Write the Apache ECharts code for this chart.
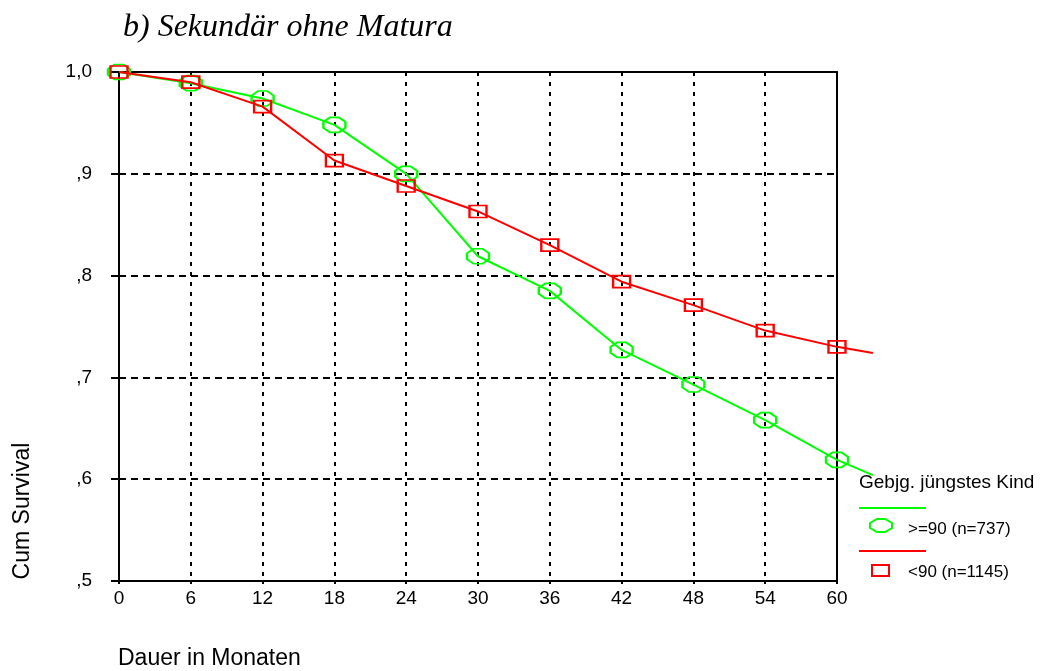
<!DOCTYPE html>
<html>
<head>
<meta charset="utf-8">
<script src="https://cdn.jsdelivr.net/npm/echarts@6/dist/echarts.min.js"></script>
<style>html,body{margin:0;padding:0;background:#fff;}#c{width:1049px;height:671px;}</style>
</head>
<body>
<div id="c"></div>
<script>
// Data
const months = [0, 6, 12, 18, 24, 30, 36, 42, 48, 54, 60];
const yTicks = [0.5, 0.6, 0.7, 0.8, 0.9, 1.0];
const yTickLabels = [',5', ',6', ',7', ',8', ',9', '1,0'];
const greenSurv = [1.0, 0.989, 0.974, 0.948, 0.900, 0.819, 0.785, 0.727, 0.693, 0.658, 0.619];
const greenEnd = [63, 0.604];
const redSurv = [1.0, 0.990, 0.966, 0.913, 0.888, 0.863, 0.830, 0.794, 0.771, 0.746, 0.730];
const redEnd = [63, 0.724];
const nameGreen = '>=90 (n=737)';
const nameRed = '<90 (n=1145)';
const legendTitle = 'Gebjg. jüngstes Kind';
const chartTitle = 'b) Sekundär ohne Matura';
const yName = 'Cum Survival';
const xName = 'Dauer in Monaten';

const GREEN = '#00ff00', RED = '#ff0000';
const SANS = '"Liberation Sans", Arial, sans-serif';
const octagon = 'path://M3,0 L7,0 L10,3 L10,7 L7,10 L3,10 L0,7 L0,3 Z';

// plot geometry
const GL = 119, GT = 72, GB = 90, GR = 212;
const plotW = 1049 - GL - GR;           // width for 0..60
const X_MAX = 60, X_EXT = 63;            // lines run on past the last tick
const GR2 = 1049 - GL - plotW * X_EXT / X_MAX;

function toData(vals, end) {
  const d = months.map((m, i) => [m, vals[i]]);
  d.push({ value: end, symbol: 'none' });
  return d;
}

const chart = echarts.init(document.getElementById('c'), null, { renderer: 'canvas' });
const axisLineStyle = { color: '#000', width: 2 };
const option = {
  backgroundColor: '#fff',
  animation: false,
  grid: [
    { left: GL, right: GR, top: GT, bottom: GB, containLabel: false },
    { left: GL, right: GR2, top: GT, bottom: GB, containLabel: false }
  ],
  xAxis: [{
    type: 'value', gridIndex: 0, min: 0, max: X_MAX, interval: 6,
    axisLine: { show: true, onZero: false, lineStyle: axisLineStyle },
    axisTick: { show: true, length: 3, lineStyle: axisLineStyle },
    axisLabel: { show: true, margin: 8, color: '#000', fontSize: 19, fontFamily: SANS },
    splitLine: { show: true, showMinLine: false, showMaxLine: false, lineStyle: { color: '#000', width: 2, type: [4, 6] } }
  }, {
    type: 'value', gridIndex: 0, min: 0, max: X_MAX, position: 'top',
    axisLine: { show: true, onZero: false, lineStyle: axisLineStyle },
    axisTick: { show: false }, axisLabel: { show: false }, splitLine: { show: false }
  }, {
    type: 'value', gridIndex: 1, min: 0, max: X_EXT, show: false
  }],
  yAxis: [{
    type: 'value', gridIndex: 0, min: 0.5, max: 1.0, interval: 0.1,
    axisLine: { show: true, onZero: false, lineStyle: axisLineStyle },
    axisTick: { show: true, length: 8, lineStyle: axisLineStyle },
    axisLabel: {
      show: true, margin: 27, color: '#000', fontSize: 19, fontFamily: SANS,
      formatter: function (v) {
        const i = yTicks.findIndex(t => Math.abs(t - v) < 1e-6);
        return i >= 0 ? yTickLabels[i] : '';
      }
    },
    splitLine: { show: true, showMinLine: false, showMaxLine: false, lineStyle: { color: '#000', width: 2, type: [7, 5] } }
  }, {
    type: 'value', gridIndex: 0, min: 0.5, max: 1.0, position: 'right',
    axisLine: { show: true, onZero: false, lineStyle: axisLineStyle },
    axisTick: { show: false }, axisLabel: { show: false }, splitLine: { show: false }
  }, {
    type: 'value', gridIndex: 1, min: 0.5, max: 1.0, show: false
  }],
  series: [{
    name: nameGreen, type: 'line', xAxisIndex: 2, yAxisIndex: 2,
    data: toData(greenSurv, greenEnd), clip: false, showAllSymbol: true,
    symbol: octagon, symbolSize: [22, 15], symbolKeepAspect: false,
    lineStyle: { color: GREEN, width: 2 },
    itemStyle: { color: 'rgba(0,0,0,0)', borderColor: GREEN, borderWidth: 2 },
    z: 3
  }, {
    name: nameRed, type: 'line', xAxisIndex: 2, yAxisIndex: 2,
    data: toData(redSurv, redEnd), clip: false, showAllSymbol: true,
    symbol: 'rect', symbolSize: [17, 12],
    lineStyle: { color: RED, width: 2 },
    itemStyle: { color: 'rgba(0,0,0,0)', borderColor: RED, borderWidth: 2 },
    z: 4
  }],
  graphic: [
    { type: 'text', left: 123, top: 12, style: { text: chartTitle, font: 'italic 32px "Liberation Serif", "Times New Roman", serif', fill: '#000' } },
    { type: 'text', x: 23, y: 511, rotation: Math.PI / 2, style: { text: yName, fontSize: 23, fontFamily: SANS, fill: '#000', align: 'center', verticalAlign: 'middle' } },
    { type: 'text', x: 118, y: 659, style: { text: xName, fontSize: 23, fontFamily: SANS, fill: '#000', align: 'left', verticalAlign: 'middle' } },
    { type: 'text', x: 859, y: 483, style: { text: legendTitle, fontSize: 19, fontFamily: SANS, fill: '#000', align: 'left', verticalAlign: 'middle' } },
    { type: 'line', shape: { x1: 859, y1: 508, x2: 926, y2: 508 }, style: { stroke: GREEN, lineWidth: 2 } },
    { type: 'polygon', shape: { points: [[877, 519], [885, 519], [892, 523], [892, 528], [885, 532], [877, 532], [870, 528], [870, 523]] }, style: { fill: 'none', stroke: GREEN, lineWidth: 2 } },
    { type: 'text', x: 908, y: 529, style: { text: nameGreen, fontSize: 17, fontFamily: SANS, fill: '#000', align: 'left', verticalAlign: 'middle' } },
    { type: 'line', shape: { x1: 859, y1: 551, x2: 926, y2: 551 }, style: { stroke: RED, lineWidth: 2 } },
    { type: 'rect', shape: { x: 872, y: 565, width: 17, height: 11 }, style: { fill: 'none', stroke: RED, lineWidth: 2 } },
    { type: 'text', x: 908, y: 572, style: { text: nameRed, fontSize: 17, fontFamily: SANS, fill: '#000', align: 'left', verticalAlign: 'middle' } }
  ]
};
chart.setOption(option);
</script>
</body>
</html>
